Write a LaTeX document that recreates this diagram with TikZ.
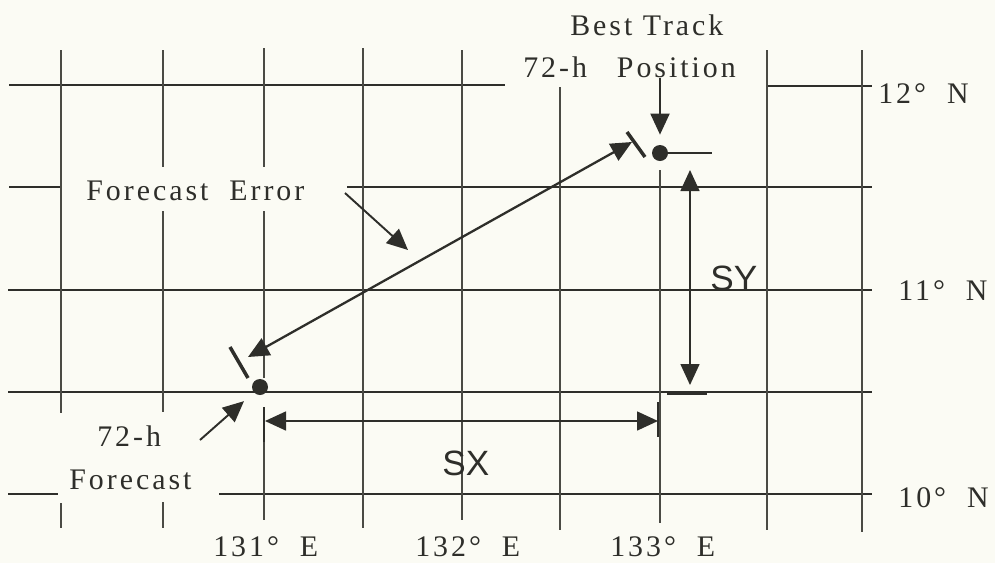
\documentclass[tikz,border=0pt]{standalone}
\usepackage{fontspec}
\setmainfont{Liberation Serif}[LetterSpace=10]
\newfontfamily\dimfont{Liberation Sans}
\usetikzlibrary{arrows.meta,positioning}
\definecolor{ink}{HTML}{2E2E2A}
\definecolor{gridink}{HTML}{4A4A44}
\definecolor{paper}{HTML}{FBFBF4}

\begin{document}
\begin{tikzpicture}[x=0.2mm,y=-0.2mm,>={Triangle[length=4.2mm,width=3.8mm]},
lat/.style={draw=ink,line width=1.1pt},
lon/.style={draw=gridink,line width=0.6pt},
lbl/.style={anchor=base west,inner sep=0pt,text=ink,font=\fontsize{17}{20}\selectfont},
dimlbl/.style={anchor=base west,inner sep=0pt,text=ink,font=\dimfont\fontsize{20}{24}\selectfont},
track/.style={circle,fill=ink,inner sep=0pt,minimum size=3.2mm},
pointer/.style={->,line width=1.1pt,draw=ink},
error/.style={<->,line width=1.3pt,draw=ink},
dimline/.style={<->,line width=0.9pt,draw=ink},
endbar/.style={draw=ink,line width=2pt}]

\fill[paper] (0,0) rectangle (995,563);
\useasboundingbox (0,0) rectangle (995,563);

\draw[lat] (9,85) -- (505,85);
\draw[lat] (768,86) -- (872,86);
\draw[lat] (9,187) -- (61,187);
\draw[lat] (347,187) -- (872,187);
\draw[lat] (8,290) -- (872,290);
\draw[lat] (8,392) -- (872,392);
\draw[lat] (8,494) -- (58,494);
\draw[lat] (219,494) -- (872,494);

\draw[lon] (61,50) -- (61,413) (61,503) -- (61,528);
\draw[lon] (163,50) -- (163,167) (163,211) -- (163,412) (163,502) -- (163,528);
\draw[lon] (264,48) -- (264,167) (264,211) -- (264,378) (264,442) -- (264,520);
\draw[lon] (363,48) -- (363,528);
\draw[lon] (462,50) -- (462,520);
\draw[lon] (560,87) -- (560,530);
\draw[lon] (660,170) -- (660,523);
\draw[lon] (767,50) -- (767,530);
\draw[lon] (862,50) -- (862,532);

\node[lbl] (best) at (570,35) {Best Track};
\node[lbl] (pos) at (523,77) {72-h\quad Position};
\node[lbl] (err) at (86,200) {Forecast\ \ Error};
\node[lbl] (n12) at (878,103) {12°\ \ N};
\node[lbl] (n11) at (898,300) {11°\ \ N};
\node[lbl] (n10) at (898,507) {10°\ \ N};
\node[lbl] (e131) at (213,556) {131°\ \ E};
\node[lbl] (e132) at (415,556) {132°\ \ E};
\node[lbl] (e133) at (610,556) {133°\ \ E};
\node[lbl] (h72) at (97,446) {72-h};
\node[lbl] (fcst) at (69,489) {Forecast};
\node[dimlbl] (sy) at (710,290) {SY};
\node[dimlbl] (sx) at (442,475) {SX};

\node[track] (fc) at (260,387) {};
\node[track] (bt) at (660,153) {};

\coordinate (errA) at (248,357);
\coordinate (errB) at (632,142);
\coordinate (errfrom) at (345,193);
\coordinate (errto) at (408,250);
\coordinate (f72from) at (200,440);
\coordinate (syTop) at (690,170);
\coordinate (syBot) at (690,385);
\coordinate (sxL) at (265,421);
\coordinate (sxR) at (658,421);

\draw[error] (errA) -- (errB);
\draw[endbar] (230,347) -- (248,378);
\draw[endbar] (627,132) -- (645,157);
\draw[pointer] (errfrom) -- (errto);
\draw[pointer,shorten >=2.6mm] (f72from) -- (fc);
\draw[pointer,shorten >=2mm] (pos.south -| bt) -- (bt);

\draw[endbar,line width=1.6pt] (bt.center) -- ++(52,0);
\draw[endbar] (667,393) -- (707,393);
\draw[dimline] (syTop) -- (syBot);
\draw[dimline] (sxL) -- (sxR);
\draw[endbar,line width=1.6pt] (264,407) -- (264,442);
\draw[endbar,line width=1.6pt] (658,402) -- (658,437);
\end{tikzpicture}
\end{document}
